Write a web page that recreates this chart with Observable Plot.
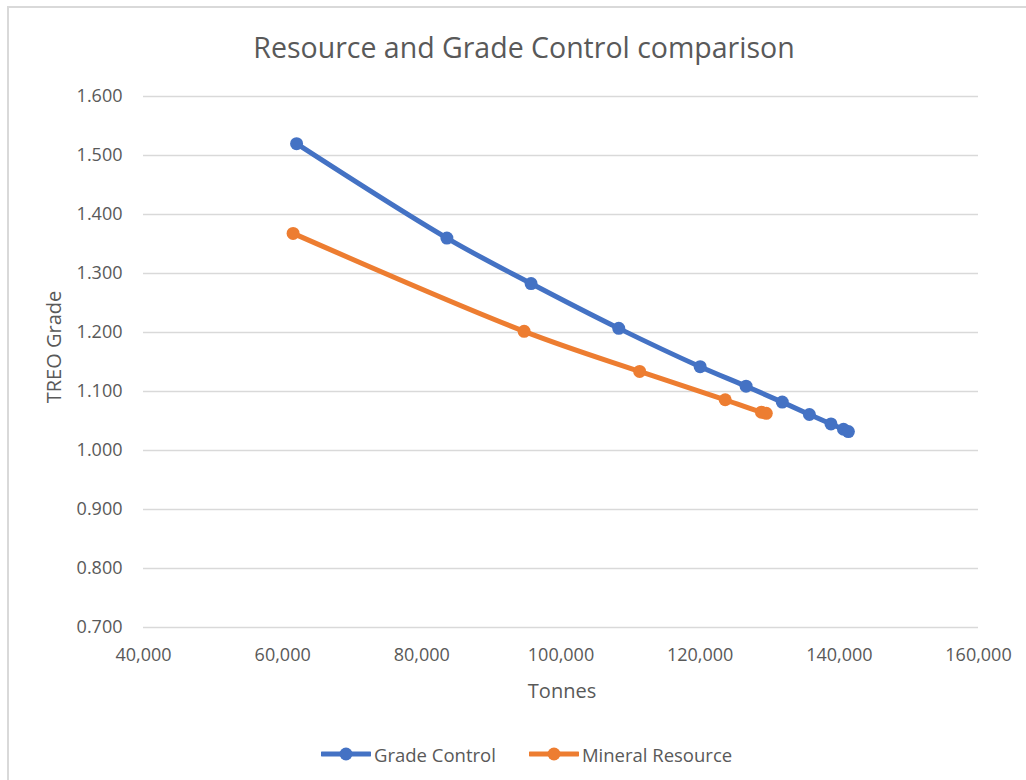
<!DOCTYPE html>
<html>
<head>
<meta charset="utf-8">
<script src="https://cdn.jsdelivr.net/npm/d3@7"></script>
<script src="https://cdn.jsdelivr.net/npm/@observablehq/plot@0.6"></script>
<style>
  html, body { margin: 0; padding: 0; background: #fff; }
  #wrap { position: relative; width: 1026px; height: 780px; overflow: hidden; font-family: "Open Sans", sans-serif; color: #595959; }
  #frame { position: absolute; left: 7px; top: 6px; width: 1100px; height: 900px; border-left: 2px solid #d9d9d9; border-top: 2px solid #d9d9d9; }
  #title { position: absolute; left: 0; width: 1048px; top: 27px; text-align: center; font-size: 28.5px; line-height: 40px; white-space: nowrap; }
  #chart { position: absolute; left: 0; top: 0; }
  #ylab { position: absolute; left: 53px; top: 347px; transform: translate(-50%, -50%) rotate(-90deg); font-size: 20px; white-space: nowrap; }
  #xlab { position: absolute; left: 562px; top: 690px; transform: translate(-50%, -50%); font-size: 20px; white-space: nowrap; }
  #legend { position: absolute; left: 321px; top: 742px; height: 24px; display: flex; align-items: center; font-size: 18.5px; white-space: nowrap; }
  .item { display: flex; align-items: center; margin-right: 33px; }
  .item svg { margin-right: 3px; }
</style>
</head>
<body>
<div id="wrap">
  <div id="frame"></div>
  <div id="chart"></div>
  <div id="title">Resource and Grade Control comparison</div>
  <div id="ylab">TREO Grade</div>
  <div id="xlab">Tonnes</div>
  <div id="legend"></div>
</div>
<script>
// ---- data ----
const seriesNames = ["Grade Control", "Mineral Resource"];
const seriesColors = ["#4472C4", "#ED7D31"];
const gcTonnes = [62000, 83600, 95700, 108300, 120000, 126600, 131800, 135700, 138800, 140600, 141300];
const gcGrade  = [1.520, 1.360, 1.283, 1.207, 1.142, 1.109, 1.082, 1.061, 1.045, 1.036, 1.032];
const mrTonnes = [61500, 94700, 111300, 123600, 128800, 129500];
const mrGrade  = [1.368, 1.202, 1.134, 1.086, 1.065, 1.063];
const xTicks = [40000, 60000, 80000, 100000, 120000, 140000, 160000];
const yTicks = [0.7, 0.8, 0.9, 1.0, 1.1, 1.2, 1.3, 1.4, 1.5, 1.6];

const gc = gcTonnes.map((t, i) => ({tonnes: t, grade: gcGrade[i], series: seriesNames[0]}));
const mr = mrTonnes.map((t, i) => ({tonnes: t, grade: mrGrade[i], series: seriesNames[1]}));

const chart = Plot.plot({
  width: 1026,
  height: 720,
  marginTop: 96,
  marginBottom: 93,
  marginLeft: 143,
  marginRight: 48,
  style: {fontFamily: "Open Sans, sans-serif", color: "#595959", background: "transparent"},
  x: {domain: [40000, 160000], label: null},
  y: {domain: [0.7, 1.6], label: null},
  marks: [
    Plot.gridY(yTicks, {stroke: "#d9d9d9", strokeOpacity: 1, strokeWidth: 1.5}),
    Plot.axisY(yTicks, {tickSize: 0, tickPadding: 21, tickFormat: d3.format(".3f"), fontSize: 18, fill: "#595959", label: null}),
    Plot.axisX(xTicks, {tickSize: 0, tickPadding: 21, tickFormat: d3.format(","), fontSize: 18, fill: "#595959", label: null}),
    Plot.line(mr, {x: "tonnes", y: "grade", stroke: seriesColors[1], strokeWidth: 5, curve: "catmull-rom"}),
    Plot.dot(mr, {x: "tonnes", y: "grade", fill: seriesColors[1], r: 6.5}),
    Plot.line(gc, {x: "tonnes", y: "grade", stroke: seriesColors[0], strokeWidth: 5, curve: "catmull-rom"}),
    Plot.dot(gc, {x: "tonnes", y: "grade", fill: seriesColors[0], r: 6.5})
  ]
});
document.getElementById("chart").appendChild(chart);

// legend
const legend = document.getElementById("legend");
seriesNames.forEach((name, i) => {
  const item = document.createElement("div");
  item.className = "item";
  item.innerHTML = `<svg width="50" height="14"><line x1="1" y1="7" x2="49" y2="7" stroke="${seriesColors[i]}" stroke-width="5" stroke-linecap="round"/><circle cx="25" cy="7" r="6.5" fill="${seriesColors[i]}"/></svg><span>${name}</span>`;
  legend.appendChild(item);
});
</script>
</body>
</html>
